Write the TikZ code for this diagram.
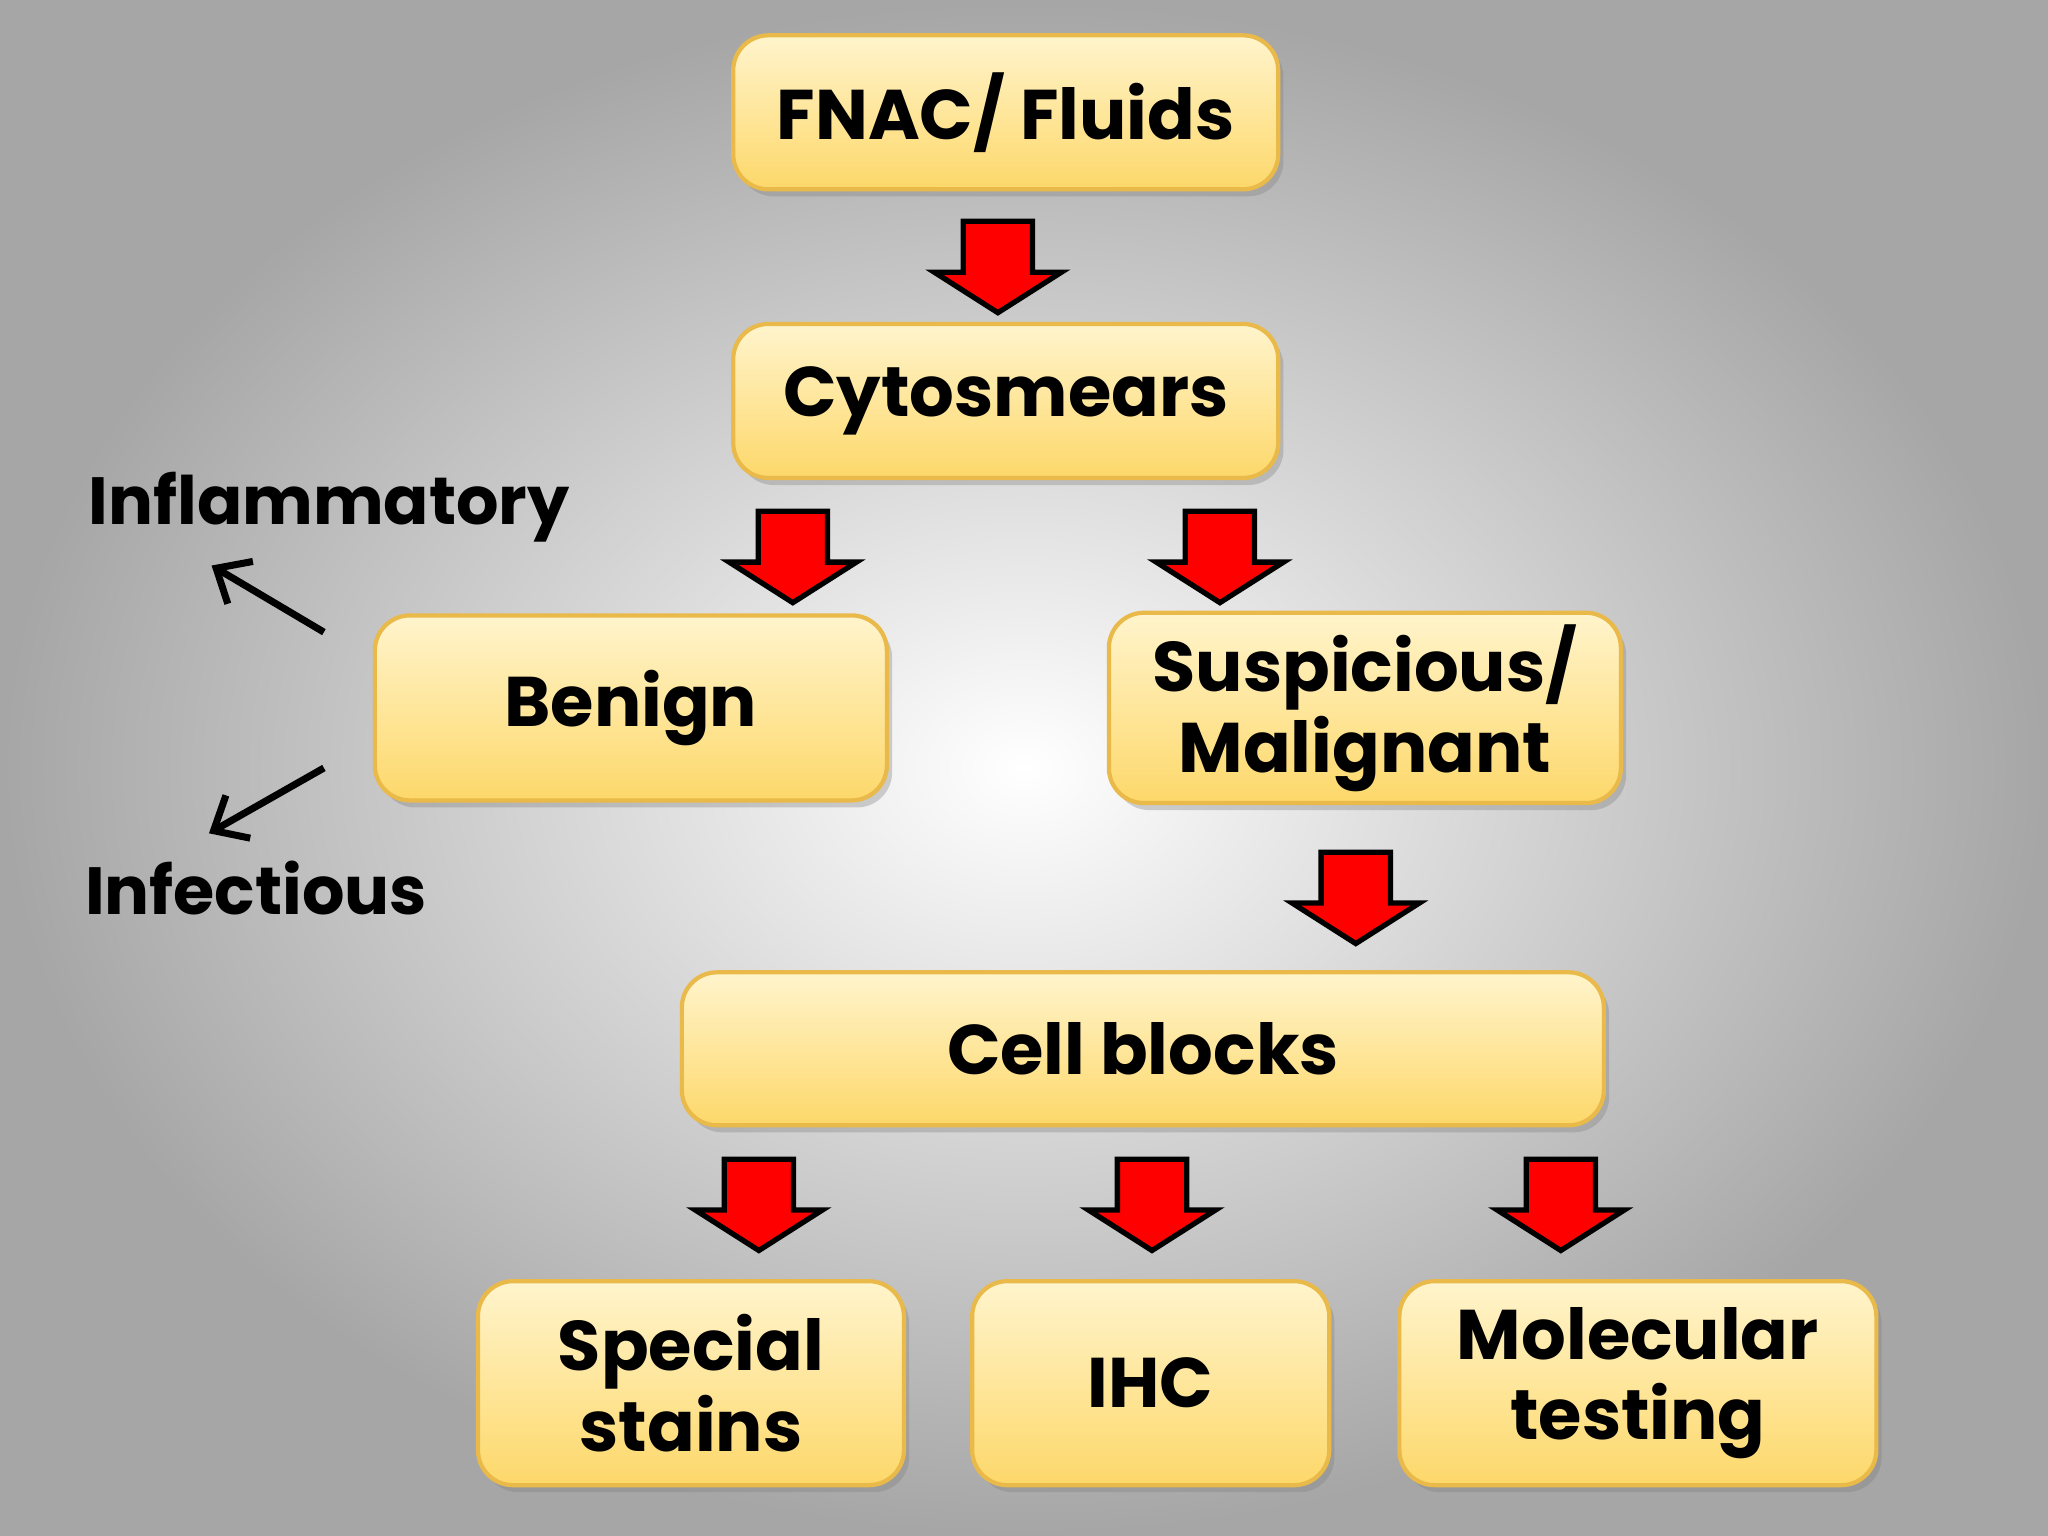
\documentclass[tikz,border=0pt]{standalone}
\usepackage{fontspec}
\setmainfont{Poppins}
\usetikzlibrary{shapes.arrows,shadows,arrows.meta}
\definecolor{boxtop}{HTML}{FFF4CC}
\definecolor{boxbot}{HTML}{FDD86A}
\definecolor{boxline}{HTML}{E9B949}
\begin{document}
\begin{tikzpicture}[x=0.01306cm,y=-0.01306cm,
  box/.style={draw=boxline,line width=1.2pt,rounded corners=10pt,top color=boxtop,bottom color=boxbot,
    drop shadow={shadow xshift=1.5pt,shadow yshift=-2pt,opacity=0.35},align=center,
    font=\fontsize{20}{23}\selectfont\bfseries},
  down/.style={single arrow,draw=black,line width=1.5pt,fill=red,rotate=270,minimum height=0.87cm,
    inner sep=0.32cm,single arrow head extend=0.29cm,single arrow tip angle=115},
  lbl/.style={font=\fontsize{19}{22}\selectfont\bfseries}]
  % background
  \shade[inner color=white,outer color=black!35] (0,0) rectangle (1568,1176);
  \useasboundingbox (0,0) rectangle (1568,1176);
  % boxes
  \node[box,minimum width=5.45cm,minimum height=1.54cm] (fnac) at (770,86) {FNAC/ Fluids};
  \node[box,minimum width=5.45cm,minimum height=1.54cm] (cyto) at (770,307) {Cytosmears};
  \node[box,minimum width=5.12cm,minimum height=1.85cm] (benign) at (483,542) {Benign};
  \node[box,minimum width=5.12cm,minimum height=1.85cm] (malig) at (1045,542) {Suspicious/\\Malignant};
  \node[box,minimum width=9.22cm,minimum height=1.53cm] (cell) at (875,803) {Cell blocks};
  \node[box,minimum width=4.26cm,minimum height=2.04cm] (stain) at (529,1059) {Special\\stains};
  \node[box,minimum width=3.57cm,minimum height=2.04cm] (ihc) at (881,1059) {IHC};
  \node[box,minimum width=4.77cm,minimum height=2.04cm] (mol) at (1254,1059) {Molecular\\testing};
  % red block arrows
  \node[down] (a1) at (764,196) {};
  \node[down] (a2) at (607,418) {};
  \node[down] (a3) at (934,418) {};
  \node[down] (a4) at (1038,679) {};
  \node[down] (a5) at (581,914) {};
  \node[down] (a6) at (882,914) {};
  \node[down] (a7) at (1195,914) {};
  % side labels
  \node[lbl] (infl) at (252,388) {Inflammatory};
  \node[lbl] (infe) at (196,680) {Infectious};
  \coordinate (s1) at (248,484);
  \coordinate (s2) at (248,588);
  \draw[line width=2pt,-{Straight Barb[length=8pt,width=14pt]}] (s1) -- (162,433);
  \draw[line width=2pt,-{Straight Barb[length=8pt,width=14pt]}] (s2) -- (160,638);
\end{tikzpicture}
\end{document}
